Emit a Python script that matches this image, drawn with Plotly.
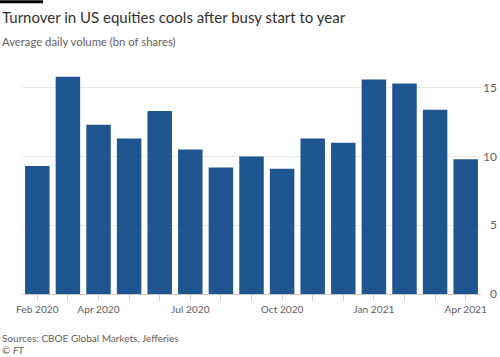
import plotly.graph_objects as go

months = ["2020-02", "2020-03", "2020-04", "2020-05", "2020-06", "2020-07", "2020-08",
          "2020-09", "2020-10", "2020-11", "2020-12", "2021-01", "2021-02", "2021-03", "2021-04"]
volume = [9.3, 15.8, 12.3, 11.3, 13.3, 10.5, 9.2, 10.0, 9.1, 11.3, 11.0, 15.6, 15.3, 13.4, 9.8]
tick_labels = {"2020-02": "Feb 2020", "2020-04": "Apr 2020", "2020-07": "Jul 2020",
               "2020-10": "Oct 2020", "2021-01": "Jan 2021", "2021-04": "Apr 2021"}
y_ticks = [0, 5, 10, 15]
y_tick_text = ["\u20070", "\u20075", "10", "15"]

title = "Turnover in US equities cools after busy start to year"
subtitle = "Average daily volume (bn of shares)"
source = "Sources: CBOE Global Markets, Jefferies"

FONT = "Lato"
GREY = "#66605c"

# plot area geometry (pixels)
L, R, T, B = 22, 19, 67, 62.5
H = 357 - T - B
W = 500 - L - R


def py(y_px):
    """paper y from a pixel row measured from the top of the figure"""
    return (357 - B - y_px) / H


def px(x_px):
    return (x_px - L) / W


fig = go.Figure(go.Bar(x=months, y=volume, marker=dict(color="#1f5590", line_width=0),
                       hoverinfo="skip"))

fig.update_layout(
    width=500, height=357,
    margin=dict(l=L, r=R, t=T, b=B, autoexpand=False),
    paper_bgcolor="white", plot_bgcolor="white",
    bargap=0.2, showlegend=False,
    font=dict(family=FONT, color=GREY, size=10),
    xaxis=dict(type="category", tickmode="array", tickvals=months,
               ticktext=[tick_labels.get(m, "") for m in months],
               ticks="outside", ticklen=6, tickcolor="#d6d0c9", tickwidth=1,
               showline=True, linecolor="#cfc8c0", linewidth=1,
               showgrid=False, tickfont=dict(size=10.2, color=GREY), automargin=False),
    yaxis=dict(side="right", range=[0, 16.5], tickvals=y_ticks, ticktext=y_tick_text,
               showgrid=True, gridcolor="#ece8e3", gridwidth=1, zeroline=False,
               ticks="", ticklabelstandoff=1, automargin=False,
               tickfont=dict(size=12, color=GREY)),
    shapes=[dict(type="rect", xref="paper", yref="paper", x0=px(0), x1=px(43),
                 y0=py(3), y1=py(0), fillcolor="#000000", line_width=0, layer="above")],
    annotations=[
        dict(text=title, xref="paper", yref="paper", x=px(0), y=py(17),
             xanchor="left", yanchor="middle", showarrow=False,
             font=dict(size=15, color="#33302e", family=FONT)),
        dict(text=subtitle, xref="paper", yref="paper", x=px(0), y=py(41),
             xanchor="left", yanchor="middle", showarrow=False,
             font=dict(size=11.3, color=GREY, family=FONT)),
        dict(text=source, xref="paper", yref="paper", x=px(0), y=py(339),
             xanchor="left", yanchor="middle", showarrow=False,
             font=dict(size=10, color=GREY, family=FONT)),
        dict(text="© <i>FT</i>", xref="paper", yref="paper", x=px(0), y=py(351),
             xanchor="left", yanchor="middle", showarrow=False,
             font=dict(size=10, color=GREY, family=FONT)),
    ],
)

fig.write_html("out.html", config={"displayModeBar": False},
               post_script="document.body.style.margin='0';")
